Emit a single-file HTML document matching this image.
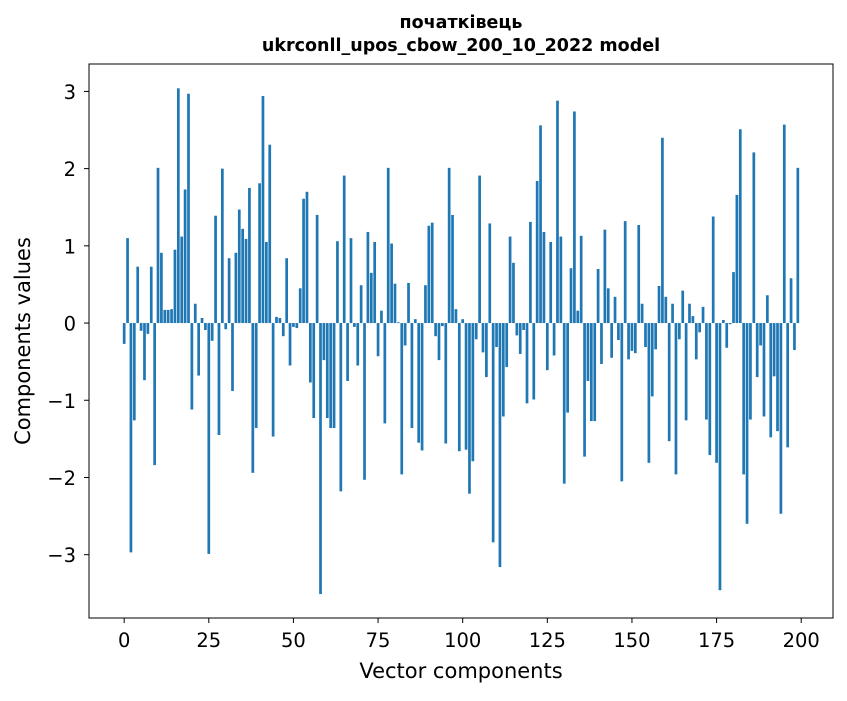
<!DOCTYPE html>
<html><head><meta charset="utf-8"><style>
body{margin:0;background:#fff;}
svg{font-family:"DejaVu Sans","Liberation Sans",sans-serif;}
</style></head><body>
<svg id="chart" width="847" height="696" xmlns="http://www.w3.org/2000/svg">
<rect width="847" height="696" fill="#fff"/>
<text x="461" y="28" text-anchor="middle" font-size="17.5" font-weight="bold">початківець</text>
<text x="461" y="51" text-anchor="middle" font-size="17.5" font-weight="bold">ukrconll_upos_cbow_200_10_2022 model</text>
<g id="bars"></g>
<g id="xticks"></g>
<g id="yticks"></g>
<rect x="89" y="64" width="744" height="554" fill="none" stroke="#000" stroke-width="1"/>
<text x="461" y="678" text-anchor="middle" font-size="21">Vector components</text>
<text transform="translate(30,341) rotate(-90)" text-anchor="middle" font-size="21">Components values</text>
</svg>
<script>
const values = [-0.27,1.10,-2.97,-1.26,0.73,-0.10,-0.74,-0.14,0.73,-1.84,
2.01,0.91,0.17,0.17,0.18,0.95,3.04,1.12,1.73,2.97,
-1.12,0.25,-0.68,0.065,-0.09,-2.99,-0.23,1.39,-1.45,2.00,
-0.08,0.84,-0.88,0.91,1.47,1.22,1.09,1.75,-1.94,-1.36,
1.81,2.94,1.05,2.31,-1.47,0.08,0.065,-0.17,0.84,-0.55,
-0.05,-0.065,0.45,1.61,1.70,-0.77,-1.23,1.40,-3.51,-0.48,
-1.23,-1.36,-1.36,1.06,-2.18,1.91,-0.75,1.10,-0.05,-0.55,
0.49,-2.03,1.18,0.65,1.05,-0.43,0.16,-1.30,2.01,1.03,
0.51,0.01,-1.96,-0.29,0.52,-1.36,0.05,-1.55,-1.65,0.49,
1.26,1.30,-0.17,-0.48,-0.04,-1.56,2.01,1.40,0.18,-1.66,
0.05,-1.64,-2.21,-1.79,-0.21,1.91,-0.38,-0.70,1.29,-2.84,
-0.31,-3.16,-1.21,-0.57,1.12,0.78,-0.16,-0.40,-0.09,-1.04,
1.31,-0.99,1.84,2.56,1.18,-0.61,1.05,-0.42,2.88,1.12,
-2.08,-1.16,0.71,2.74,0.16,1.13,-1.73,-0.75,-1.27,-1.27,
0.70,-0.53,1.21,0.45,-0.45,0.34,-0.22,-2.05,1.32,-0.47,
-0.36,-0.39,1.27,0.25,-0.31,-1.81,-0.95,-0.34,0.48,2.40,
0.34,-1.53,0.25,-1.96,-0.21,0.42,-1.26,0.25,0.09,-0.47,
-0.12,0.21,-1.25,-1.71,1.38,-1.81,-3.46,0.04,-0.32,-0.015,
0.66,1.66,2.51,-1.96,-2.60,-1.25,2.21,-0.70,-0.29,-1.21,
0.36,-1.48,-0.69,-1.40,-2.47,2.57,-1.61,0.58,-0.35,2.01];
const xTicks = [0,25,50,75,100,125,150,175,200];
const yTicks = [3,2,1,0,-1,-2,-3];
const yTickLabels = ["3","2","1","0","\u22121","\u22122","\u22123"];

const NS = "http://www.w3.org/2000/svg";
const X0 = 89, X1 = 833, Y0 = 64, Y1 = 618;
const xmin = -10.39, xmax = 209.39, ymin = -3.82, ymax = 3.355;
function xs(v){ return X0 + (v - xmin) / (xmax - xmin) * (X1 - X0); }
function ys(v){ return Y1 - (v - ymin) / (ymax - ymin) * (Y1 - Y0); }

const barsG = document.getElementById('bars');
values.forEach(function(v, i){
  const r = document.createElementNS(NS, 'rect');
  const xl = xs(i - 0.4), xr = xs(i + 0.4);
  const y0 = ys(0), yv = ys(v);
  r.setAttribute('x', xl);
  r.setAttribute('width', xr - xl);
  r.setAttribute('y', Math.min(y0, yv));
  r.setAttribute('height', Math.abs(yv - y0));
  r.setAttribute('fill', '#1f77b4');
  
  
  barsG.appendChild(r);
});

const xg = document.getElementById('xticks');
xTicks.forEach(function(t){
  const x = xs(t);
  const l = document.createElementNS(NS, 'line');
  l.setAttribute('x1', x); l.setAttribute('x2', x);
  l.setAttribute('y1', Y1); l.setAttribute('y2', Y1 + 5);
  l.setAttribute('stroke', '#000');
  
  
  xg.appendChild(l);
  const tx = document.createElementNS(NS, 'text');
  tx.setAttribute('x', x); tx.setAttribute('y', 647);
  tx.setAttribute('text-anchor', 'middle');
  tx.setAttribute('font-size', '19.5');
  tx.textContent = String(t);
  
  
  xg.appendChild(tx);
});

const yg = document.getElementById('yticks');
yTicks.forEach(function(t, i){
  const y = ys(t);
  const l = document.createElementNS(NS, 'line');
  l.setAttribute('x1', X0 - 5); l.setAttribute('x2', X0);
  l.setAttribute('y1', y); l.setAttribute('y2', y);
  l.setAttribute('stroke', '#000');
  
  
  yg.appendChild(l);
  const tx = document.createElementNS(NS, 'text');
  tx.setAttribute('x', X0 - 13); tx.setAttribute('y', y + 7.5);
  tx.setAttribute('text-anchor', 'end');
  tx.setAttribute('font-size', '19.5');
  tx.textContent = yTickLabels[i];
  
  
  yg.appendChild(tx);
});
</script>
</body></html>
